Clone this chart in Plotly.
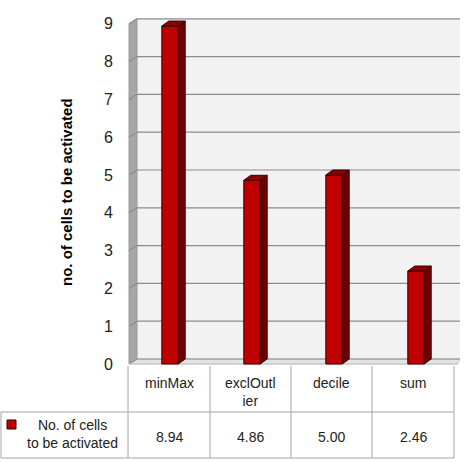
import plotly.graph_objects as go

categories = ["minMax", "exclOutlier", "decile", "sum"]
header_labels = ["minMax", "exclOutl<br>ier", "decile", "sum"]
values = [8.94, 4.86, 5.00, 2.46]
series_name = "No. of cells<br>to be activated"
y_title = "no. of cells to be activated"
y_ticks = list(range(0, 10))

W, H = 465, 462
FRONT = "#c00000"
SIDE = "#6e0000"
TOP = "#8e0000"
EDGE = "#3a0000"
GRID = "#8c8c8c"
TBL = "#a6a6a6"
FONT = "Liberation Sans"

# axis geometry
XR = [-0.55, 3.55]
YR = [-0.3, 9.3]
px_per_cat = 82.0
px_per_unit = 37.8
x0_px = 170 + XR[0] * px_per_cat
x1_px = 170 + XR[1] * px_per_cat
y0_px = 364 - YR[0] * px_per_unit
y1_px = 364 - YR[1] * px_per_unit

# 3D offsets (data units)
wdx = 8 / px_per_cat
wdy = 5 / px_per_unit
bdx = 7 / px_per_cat
bdy = 5 / px_per_unit
bw = 0.2
xl = -0.5
xr = (460 - 170) / px_per_cat

def P(pts):
    return "M " + " L ".join(f"{x},{y}" for x, y in pts) + " Z"

shapes = []
# back wall
shapes.append(dict(type="rect", xref="x", yref="y", x0=xl + wdx, x1=xr, y0=wdy, y1=9 + wdy,
                   fillcolor="#f2f2f2", line=dict(width=0), layer="below"))
# side wall
shapes.append(dict(type="path", xref="x", yref="y",
                   path=P([(xl, 0), (xl + wdx, wdy), (xl + wdx, 9 + wdy), (xl, 9)]),
                   fillcolor="#a6a6a6", line=dict(color="#9a9a9a", width=1), layer="below"))
# floor
shapes.append(dict(type="path", xref="x", yref="y",
                   path=P([(xl, 0), (xl + wdx, wdy), (xr, wdy), (xr - 0.03, 0)]),
                   fillcolor="#e3e3e3", line=dict(color="#c4c4c4", width=1), layer="below"))
# gridlines
for v in y_ticks:
    shapes.append(dict(type="line", xref="x", yref="y", x0=xl + wdx, x1=xr, y0=v + wdy, y1=v + wdy,
                       line=dict(color=GRID, width=1.2), layer="below"))
    shapes.append(dict(type="line", xref="x", yref="y", x0=xl, x1=xl + wdx, y0=v, y1=v + wdy,
                       line=dict(color=GRID, width=1.2), layer="below"))
# front floor edge
shapes.append(dict(type="line", xref="x", yref="y", x0=xl, x1=xr - 0.03, y0=0, y1=0,
                   line=dict(color="#c8c8c8", width=1), layer="below"))

# bar side and top faces
for i, v in enumerate(values):
    a, b = i - bw / 2, i + bw / 2
    shapes.append(dict(type="path", xref="x", yref="y",
                       path=P([(b, 0), (b + bdx, bdy), (b + bdx, v + bdy), (b, v)]),
                       fillcolor=SIDE, line=dict(color=EDGE, width=1), layer="above"))
    shapes.append(dict(type="path", xref="x", yref="y",
                       path=P([(a, v), (a + bdx, v + bdy), (b + bdx, v + bdy), (b, v)]),
                       fillcolor=TOP, line=dict(color=EDGE, width=1), layer="above"))

# data table (paper coords)
def px(x):
    return x / W

def py(y):
    return 1 - y / H

col_edges = [128, 210, 291, 372, 454]
r_top, r_mid, r_bot = 366, 412, 458
for xe in col_edges:
    shapes.append(dict(type="line", xref="paper", yref="paper", x0=px(xe), x1=px(xe),
                       y0=py(r_top), y1=py(r_bot), line=dict(color=TBL, width=1)))
shapes.append(dict(type="line", xref="paper", yref="paper", x0=px(1), x1=px(1),
                   y0=py(r_mid), y1=py(r_bot), line=dict(color=TBL, width=1)))
shapes.append(dict(type="line", xref="paper", yref="paper", x0=px(1), x1=px(454),
                   y0=py(r_mid), y1=py(r_mid), line=dict(color=TBL, width=1)))
shapes.append(dict(type="line", xref="paper", yref="paper", x0=px(1), x1=px(454),
                   y0=py(r_bot), y1=py(r_bot), line=dict(color=TBL, width=1)))
# legend key
shapes.append(dict(type="rect", xref="paper", yref="paper", x0=px(7), x1=px(16),
                   y0=py(429), y1=py(420), fillcolor=FRONT, line=dict(color=EDGE, width=1)))

annotations = []
for i, (lab, v) in enumerate(zip(header_labels, values)):
    cx = (col_edges[i] + col_edges[i + 1]) / 2
    annotations.append(dict(x=px(cx), y=py(373), xref="paper", yref="paper", text=lab,
                            showarrow=False, xanchor="center", yanchor="top",
                            font=dict(family=FONT, size=14, color="#222")))
    annotations.append(dict(x=px(cx), y=py(437), xref="paper", yref="paper", text=f"{v:.2f}",
                            showarrow=False, xanchor="center", yanchor="middle",
                            font=dict(family=FONT, size=14, color="#222")))
annotations.append(dict(x=px(72), y=py(434), xref="paper", yref="paper", text=series_name,
                        showarrow=False, xanchor="center", yanchor="middle",
                        font=dict(family=FONT, size=14, color="#222")))
annotations.append(dict(x=px(66), y=py(192), xref="paper", yref="paper", text=f"<b>{y_title}</b>",
                        showarrow=False, textangle=-90, xanchor="center", yanchor="middle",
                        font=dict(family=FONT, size=15, color="#000")))

fig = go.Figure(go.Bar(x=list(range(len(categories))), y=values, width=bw,
                       marker=dict(color=FRONT, line=dict(color=EDGE, width=1)),
                       name="No. of cells to be activated", hoverinfo="y"))
fig.update_layout(
    width=W, height=H, margin=dict(l=0, r=0, t=0, b=0),
    paper_bgcolor="white", plot_bgcolor="white", showlegend=False,
    shapes=shapes, annotations=annotations,
    xaxis=dict(range=XR, domain=[x0_px / W, x1_px / W], showgrid=False, zeroline=False,
               showticklabels=False, ticks="", showline=False, fixedrange=True),
    yaxis=dict(range=YR, domain=[1 - y0_px / H, 1 - y1_px / H], tickvals=y_ticks,
               showgrid=False, zeroline=False, ticks="", showline=False,
               ticklabelstandoff=11, tickfont=dict(family=FONT, size=16, color="#222"),
               fixedrange=True),
)
fig.write_html("out.html")
